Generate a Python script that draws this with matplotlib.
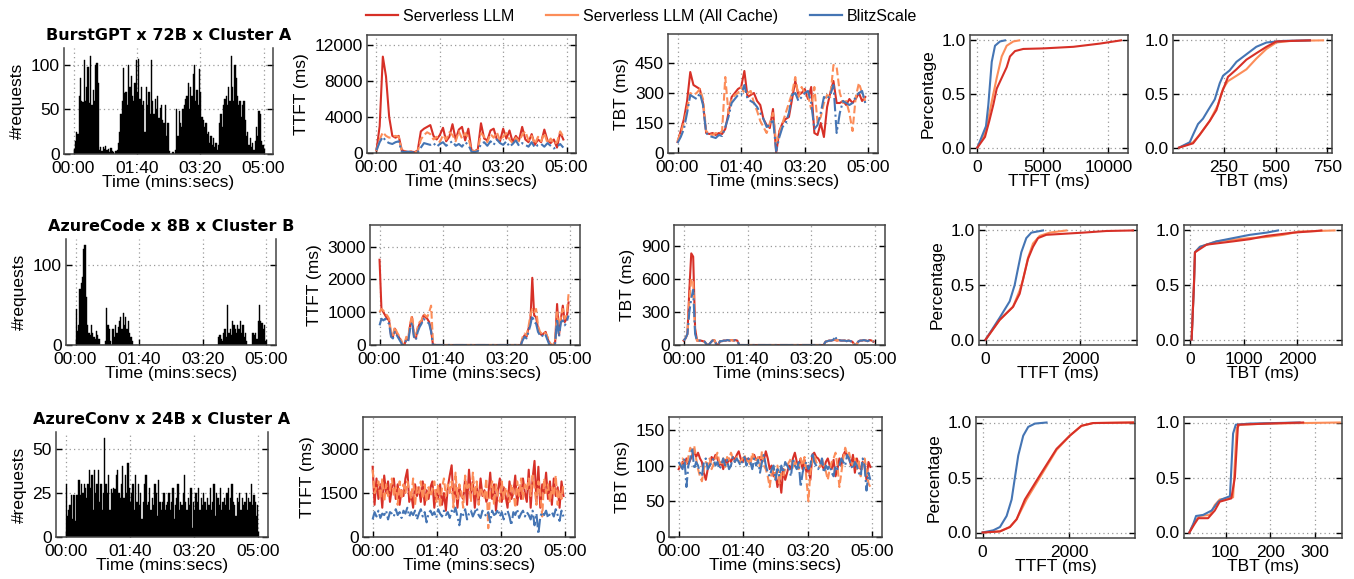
import matplotlib
matplotlib.use("Agg")
import matplotlib.pyplot as plt
from matplotlib.lines import Line2D
from matplotlib.ticker import FuncFormatter
import numpy as np

RED = "#d73027"
ORANGE = "#fc8d59"
BLUE = "#4575b4"

SYSTEMS = ["Serverless LLM", "Serverless LLM (All Cache)", "BlitzScale"]
TITLES = ["BurstGPT x 72B x Cluster A", "AzureCode x 8B x Cluster B", "AzureConv x 24B x Cluster A"]

# request counts, 2 s bins
HIST_T = np.arange(0, 300, 2)
REQ_BURSTGPT = [
    5, 15, 25, 22, 65, 85, 60, 58, 105, 60, 75, 98, 57, 110, 55, 72, 60, 100, 102, 80,
    5, 8, 3, 8, 6, 9, 4, 6, 2, 7, 3, 2, 0, 3, 5,
    12, 25, 45, 60, 97, 68, 70, 55, 100, 75, 88, 65, 60, 80, 105, 70, 107, 62, 75, 55,
    60, 25, 75, 55, 70, 45, 105, 60, 45, 62, 50, 65, 40, 52, 55, 38, 35, 55, 20, 35,
    3, 0, 0, 2, 0, 5,
    50, 20, 48, 35, 30, 50, 55, 62, 65, 80, 50, 75, 65, 90, 100, 60, 72, 55, 95, 70,
    42, 38, 30, 35, 22, 25,
    12, 20, 10, 18, 8, 12, 5, 10,
    35, 45, 30, 55, 62, 65, 55, 75, 60, 110, 75, 60, 100, 85, 65, 55, 60, 42, 55, 60,
    38, 20, 25,
    10, 18, 8, 12, 5, 15,
    30, 20, 48, 45, 15, 10,
]
REQ_AZURECODE = (
    [45, 18, 25, 70, 78, 85, 120, 125, 60, 25, 15, 12, 25, 15, 10, 8, 18, 12, 8,
     0, 0, 0, 0, 5, 47, 25, 20, 5, 0,
     20, 10, 25, 15, 22, 30, 35, 20, 40, 25, 35, 20, 30, 15, 10, 5]
    + [0] * 67
    + [10, 12, 8, 5, 15, 20, 10, 50, 15, 20, 12, 30, 25, 20, 15, 25, 20, 30, 15, 25,
       10, 15, 5, 0, 0, 0, 0, 15, 12, 15, 8, 30, 50, 30, 28, 20, 25, 5]
)
REQ_AZURECONV = [
    30, 12, 15, 18, 24, 10, 24, 9, 24, 24,
    32, 24, 30, 25, 30, 28, 22, 30, 38, 28,
    35, 15, 38, 25, 30, 38, 20, 30, 15, 25,
    56, 30, 25, 35, 15, 27, 25, 28, 27, 35,
    38, 25, 22, 30, 40, 22, 35, 25, 42, 28,
    20, 25, 30, 15, 35, 20, 30, 18, 25, 10,
    20, 30, 35, 18, 20, 28, 15, 22, 18, 30,
    25, 12, 32, 20, 15, 20, 25, 15, 18, 20,
    25, 15, 20, 28, 10, 18, 22, 30, 15, 20,
    18, 25, 35, 20, 15, 22, 18, 28, 5, 20,
    15, 25, 20, 28, 15, 22, 18, 25, 20, 15,
    22, 18, 28, 15, 20, 30, 12, 25, 22, 18,
    28, 15, 20, 22, 18, 25, 28, 15, 22, 30,
    20, 18, 12, 22, 20, 25, 15, 22, 18, 20,
    25, 15, 22, 20, 30, 18, 24, 20, 12, 18,
]

# row 1 time series, 5 s steps
T1 = np.arange(0, 300, 5)
TTFT1_RED = [300, 3000, 10700, 8500, 4000, 1900, 1700, 1900, 300, 200, 100, 150, 100, 250,
             2400, 2700, 2900, 3100, 1900, 1500, 2000, 2800, 1300, 1800, 3200, 1500, 2600, 2900,
             1400, 2700, 300, 200, 400, 3300, 1600, 1400, 2500, 2700, 1500, 1300, 2700, 1600,
             2500, 1200, 1900, 1400, 2900, 1500, 1200, 2100, 900, 1500, 1200, 2600, 1400, 1100,
             1500, 600, 2300, 1500]
TTFT1_ORANGE = [200, 1500, 2300, 1900, 1700, 1800, 1900, 1800, 200, 150, 100, 200, 100, 150,
                1500, 2000, 2300, 2100, 1500, 1800, 1200, 2000, 1500, 2300, 2000, 1300, 2400, 1600,
                2200, 1700, 300, 200, 300, 2200, 1800, 1200, 2100, 1700, 2300, 1400, 1800, 2200,
                1500, 1100, 1700, 1300, 2000, 2400, 1400, 1900, 1000, 1800, 1300, 2200, 1100, 1600,
                1000, 1200, 2400, 1800]
TTFT1_BLUE = [300, 1200, 1800, 1300, 1100, 1000, 1200, 1300, 150, 100, 150, 100, 50, 100,
              600, 1100, 1000, 900, 1100, 700, 1000, 1200, 800, 1100, 1300, 800, 1000, 700,
              1200, 900, 150, 100, 200, 1000, 1200, 800, 1300, 900, 1500, 1100, 900, 1300,
              700, 1000, 1400, 800, 1100, 900, 700, 1200, 600, 900, 1000, 700, 1100, 800,
              500, 700, 1000, 600]
TBT1_RED = [55, 110, 170, 260, 405, 340, 330, 320, 250, 100, 95, 100, 90, 100, 95, 120, 200, 280,
            300, 320, 330, 410, 280, 290, 300, 260, 240, 170, 140, 125, 220, 0, 110, 150, 170, 180,
            270, 360, 290, 300, 320, 270, 330, 100, 90, 150, 80, 230, 300, 360, 250, 250, 260, 240,
            270, 250, 270, 300, 260, 280]
TBT1_ORANGE = [60, 100, 150, 220, 300, 290, 300, 320, 270, 110, 95, 90, 100, 95, 110, 380, 200, 270,
               290, 300, 330, 300, 300, 310, 250, 210, 160, 130, 100, 150, 200, 50, 100, 150, 200, 250,
               300, 380, 280, 330, 300, 290, 220, 330, 150, 180, 250, 290, 280, 440, 430, 300, 250, 260,
               200, 110, 280, 350, 300, 260]
TBT1_BLUE = [50, 80, 120, 200, 290, 280, 270, 300, 240, 100, 85, 80, 75, 90, 85, 130, 180, 250,
             270, 290, 290, 340, 270, 260, 250, 230, 200, 170, 130, 140, 170, 10, 80, 130, 150, 200,
             290, 300, 260, 280, 300, 310, 250, 120, 140, 200, 280, 270, 290, 340, 100, 200, 260, 250,
             240, 250, 280, 300, 310, 250]

# row 2 time series, 3 s steps
T2 = np.arange(0, 300, 3)
TTFT2_RED = ([2600, 1100, 1000, 900, 800, 750, 300, 250, 500, 350, 250, 150, 0, 0, 200, 150, 600, 850,
              300, 200, 500, 650, 700, 900, 850, 800, 700, 450, 0]
             + [0] * 45
             + [0, 200, 300, 250, 500, 700, 2050, 900, 850, 500, 350, 300, 350, 400, 200, 50, 0, 0,
                100, 1250, 300, 800, 1200, 700, 800, 1300])
TTFT2_ORANGE = ([1000, 1100, 1050, 950, 900, 800, 400, 300, 550, 400, 300, 200, 50, 0, 250, 200, 650, 900,
                 400, 250, 550, 700, 750, 950, 900, 850, 1000, 1200, 100]
                + [0] * 45
                + [0, 250, 350, 300, 550, 900, 1100, 1000, 1100, 600, 400, 350, 400, 350, 250, 100, 0, 0,
                   150, 1000, 400, 900, 1100, 800, 900, 1550])
TTFT2_BLUE = ([600, 800, 750, 800, 700, 650, 250, 200, 400, 300, 200, 100, 0, 0, 150, 100, 500, 700,
               250, 150, 400, 550, 650, 800, 750, 700, 650, 400, 0]
              + [0] * 45
              + [0, 150, 250, 200, 400, 600, 900, 700, 650, 400, 300, 250, 350, 300, 150, 0, 0, 0,
                 50, 800, 250, 700, 750, 600, 700, 900])
TBT2_RED = ([40, 60, 100, 500, 830, 800, 150, 40, 40, 40, 35, 30, 5, 0, 20, 40, 45, 10, 0, 35,
             35, 40, 40, 45, 40, 45, 40, 45, 40, 0]
            + [0] * 43
            + [0, 30, 35, 40, 40, 45, 45, 40, 45, 40, 40, 40, 35, 40, 35, 30, 5, 0, 30, 40,
               40, 45, 40, 35, 45, 40, 30])
TBT2_ORANGE = ([40, 60, 100, 400, 600, 580, 120, 40, 40, 40, 35, 30, 5, 0, 20, 40, 45, 10, 0, 35,
                35, 40, 40, 45, 40, 45, 40, 45, 40, 0]
               + [0] * 43
               + [0, 30, 35, 40, 40, 45, 50, 40, 45, 40, 40, 40, 35, 40, 35, 30, 5, 0, 30, 40,
                  40, 45, 40, 35, 45, 40, 30])
TBT2_BLUE = ([40, 60, 100, 300, 420, 500, 100, 40, 40, 40, 35, 30, 5, 0, 20, 40, 45, 10, 0, 35,
              35, 40, 40, 45, 40, 45, 40, 45, 40, 0]
             + [0] * 43
             + [0, 30, 35, 40, 40, 45, 80, 40, 45, 40, 40, 40, 35, 40, 35, 30, 5, 0, 30, 40,
                40, 45, 40, 35, 45, 40, 30])

# row 3 time series, 3 s steps
T3 = np.arange(0, 300, 3)
TTFT3_RED = [2400, 1100, 2000, 1300, 1800, 1000, 2100, 1500, 1900, 1200,
             1700, 2000, 1300, 1800, 1100, 1600, 1400, 2000, 2300, 1200,
             1500, 1000, 1800, 1400, 1700, 1200, 1900, 1100, 1600, 1300,
             1700, 1900, 1000, 1600, 1300, 1800, 1100, 1500, 900, 1700,
             2100, 2450, 1200, 1800, 1000, 1700, 1400, 1300, 2000, 1100,
             2300, 1500, 1900, 1000, 1700, 1200, 2000, 1400, 1600, 1200,
             1400, 2200, 1300, 1800, 900, 1600, 2000, 1200, 1700, 1400,
             1000, 1900, 1300, 1500, 2100, 1100, 1700, 1300, 2000, 1500,
             1200, 2300, 1000, 2000, 2600, 1200, 2400, 1000, 1800, 1500,
             2200, 1300, 1900, 1100, 2000, 1400, 1700, 1000, 1900, 1400]
TTFT3_ORANGE = [2300, 1500, 1700, 1900, 1300, 2000, 1200, 1800, 1400, 1600,
                2000, 1400, 1700, 1100, 1900, 1300, 1800, 1500, 1900, 1600,
                1300, 2000, 1100, 1700, 1500, 1900, 1300, 1800, 1200, 1700,
                1400, 1600, 1900, 1200, 1800, 1000, 1700, 2000, 1400, 1800,
                1500, 1900, 1000, 2200, 1300, 1800, 1500, 1000, 2100, 1600,
                1800, 1200, 2200, 1400, 1900, 1100, 1700, 1500, 1300, 2000,
                300, 1600, 1900, 1100, 1800, 1400, 1200, 1900, 1300, 1700,
                1500, 1200, 1800, 1600, 1000, 1900, 1400, 2000, 1300, 1800,
                1600, 2000, 1400, 2100, 1700, 1100, 1900, 1500, 700, 2000,
                1500, 1800, 1200, 1700, 1400, 2100, 1100, 1600, 1300, 1800]
TTFT3_BLUE = [600, 850, 700, 900, 650, 800, 750, 900, 600, 850,
              800, 700, 950, 750, 850, 650, 900, 800, 1000, 700,
              850, 750, 900, 600, 800, 950, 700, 850, 500, 800,
              900, 750, 850, 650, 950, 800, 700, 900, 750, 850,
              650, 900, 800, 1000, 700, 400, 850, 750, 950, 600,
              800, 900, 700, 850, 1000, 750, 650, 900, 800, 700,
              850, 500, 900, 750, 800, 950, 700, 850, 600, 800,
              900, 700, 400, 850, 750, 950, 650, 800, 900, 700,
              850, 750, 600, 900, 400, 800, 100, 700, 850, 750,
              900, 650, 800, 850, 700, 950, 750, 550, 900, 700]
TBT3_RED = [95, 100, 105, 98, 110, 102, 108, 115, 120, 112,
            118, 110, 105, 90, 80, 95, 100, 112, 108, 115,
            110, 100, 105, 95, 108, 102, 110, 105, 112, 108,
            115, 120, 110, 105, 112, 108, 110, 105, 112, 115,
            108, 110, 112, 105, 108, 120, 110, 95, 100, 85,
            90, 70, 85, 62, 95, 80, 90, 100, 95, 110,
            118, 105, 100, 110, 95, 108, 90, 100, 80, 115,
            118, 112, 110, 105, 100, 95, 105, 110, 100, 95,
            108, 85, 95, 110, 100, 115, 120, 112, 110, 100,
            115, 90, 110, 100, 95, 105, 100, 80, 105, 98]
TBT3_ORANGE = [100, 98, 110, 105, 100, 112, 125, 115, 128, 110,
               95, 85, 78, 95, 105, 100, 110, 95, 102, 110,
               118, 105, 100, 110, 98, 112, 108, 118, 110, 105,
               112, 108, 105, 110, 115, 102, 108, 100, 118, 110,
               105, 112, 98, 120, 100, 95, 85, 70, 90, 95,
               80, 100, 75, 90, 85, 95, 100, 105, 110, 95,
               105, 100, 95, 110, 100, 112, 80, 50, 90, 105,
               115, 105, 100, 98, 110, 100, 92, 80, 95, 105,
               110, 118, 100, 70, 90, 110, 125, 115, 118, 105,
               100, 110, 95, 108, 85, 100, 110, 95, 75, 70]
TBT3_BLUE = [105, 100, 95, 110, 70, 100, 110, 125, 95, 105,
             100, 90, 85, 105, 110, 95, 100, 105, 110, 100,
             105, 95, 100, 110, 100, 108, 95, 100, 112, 105,
             110, 105, 100, 108, 112, 100, 110, 105, 95, 110,
             100, 108, 90, 105, 115, 100, 90, 85, 95, 100,
             80, 95, 85, 100, 90, 105, 100, 95, 85, 110,
             100, 95, 105, 70, 90, 100, 105, 95, 100, 118,
             105, 100, 95, 100, 110, 90, 100, 95, 100, 90,
             85, 100, 95, 100, 110, 105, 100, 115, 110, 100,
             95, 105, 100, 90, 85, 110, 100, 65, 90, 80]

# CDF points (value in ms, fraction)
CDF1_TTFT_X = {
    "red": [0, 585, 915, 1220, 1480, 1860, 2240, 2490, 2875, 3510, 5040, 7330, 9360, 10970],
    "orange": [0, 460, 710, 970, 1220, 1480, 1860, 2240, 2750, 3200],
    "blue": [0, 330, 660, 840, 970, 1100, 1350, 1730, 2110],
}
CDF1_TTFT_Y = {
    "red": [0, 0.1, 0.25, 0.4, 0.55, 0.65, 0.75, 0.85, 0.9, 0.92, 0.925, 0.94, 0.97, 1.0],
    "orange": [0, 0.1, 0.2, 0.35, 0.5, 0.65, 0.85, 0.95, 0.99, 1.0],
    "blue": [0, 0.1, 0.2, 0.4, 0.6, 0.8, 0.95, 0.99, 1.0],
}
CDF1_TBT_X = {
    "red": [32, 100, 132, 181, 213, 237, 269, 310, 358, 406, 455, 503, 665],
    "orange": [32, 100, 132, 181, 221, 245, 269, 310, 358, 406, 455, 503, 568, 729],
    "blue": [32, 84, 100, 124, 148, 173, 205, 229, 245, 277, 310, 358, 406, 455, 535, 665],
}
CDF1_TBT_Y = {
    "red": [0, 0.04, 0.12, 0.25, 0.35, 0.5, 0.66, 0.73, 0.82, 0.88, 0.94, 0.99, 1.0],
    "orange": [0, 0.05, 0.12, 0.25, 0.4, 0.55, 0.62, 0.67, 0.73, 0.83, 0.92, 0.98, 0.995, 1.0],
    "blue": [0, 0.05, 0.12, 0.22, 0.27, 0.35, 0.45, 0.6, 0.67, 0.72, 0.8, 0.87, 0.94, 0.98, 0.995, 1.0],
}
CDF2_TTFT_X = {
    "red": [0, 297, 580, 721, 792, 898, 1004, 1110, 1286, 2063, 2558, 3124],
    "orange": [0, 297, 580, 721, 792, 898, 1004, 1145, 1357, 1710],
    "blue": [0, 297, 509, 615, 685, 756, 862, 968, 1216],
}
CDF2_TTFT_Y = {
    "red": [0, 0.18, 0.3, 0.42, 0.55, 0.74, 0.85, 0.93, 0.96, 0.98, 0.995, 1.0],
    "orange": [0, 0.18, 0.3, 0.45, 0.55, 0.75, 0.88, 0.95, 0.98, 1.0],
    "blue": [0, 0.2, 0.35, 0.5, 0.65, 0.8, 0.93, 0.98, 1.0],
}
CDF2_TBT_X = {
    "red": [31, 74, 93, 186, 310, 805, 1115, 1424, 1920, 2353, 2446],
    "orange": [31, 74, 93, 186, 495, 1115, 1424, 1734, 2043, 2693],
    "blue": [31, 74, 93, 186, 495, 805, 1115, 1424, 1641],
}
CDF2_TBT_Y = {
    "red": [0, 0.5, 0.8, 0.83, 0.87, 0.9, 0.92, 0.95, 0.98, 0.995, 1.0],
    "orange": [0, 0.5, 0.8, 0.85, 0.9, 0.93, 0.94, 0.96, 0.99, 1.0],
    "blue": [0, 0.5, 0.8, 0.85, 0.9, 0.93, 0.96, 0.98, 1.0],
}
CDF3_TTFT_X = {
    "red": [0, 400, 630, 785, 977, 1323, 1708, 2015, 2285, 2554, 3477],
    "orange": [0, 400, 630, 785, 1015, 1323, 1708, 2015, 2285, 2554, 3477],
    "blue": [0, 246, 400, 554, 670, 746, 823, 938, 1054, 1208, 1477],
}
CDF3_TTFT_Y = {
    "red": [0, 0.01, 0.05, 0.12, 0.3, 0.52, 0.76, 0.88, 0.97, 0.995, 1.0],
    "orange": [0, 0.01, 0.05, 0.12, 0.3, 0.5, 0.75, 0.88, 0.97, 0.995, 1.0],
    "blue": [0, 0.02, 0.05, 0.15, 0.3, 0.5, 0.7, 0.88, 0.96, 0.99, 1.0],
}
CDF3_TBT_X = {
    "red": [19, 31, 39, 61, 76, 87, 113, 121, 128, 192, 274],
    "orange": [19, 31, 43, 65, 76, 87, 117, 125, 132, 192, 356],
    "blue": [19, 28, 34, 50, 69, 84, 91, 110, 117, 123, 154, 266],
}
CDF3_TBT_Y = {
    "red": [0, 0.08, 0.13, 0.13, 0.2, 0.28, 0.31, 0.5, 0.98, 0.99, 1.0],
    "orange": [0, 0.1, 0.15, 0.16, 0.25, 0.3, 0.32, 0.95, 0.98, 0.99, 1.0],
    "blue": [0, 0.08, 0.15, 0.16, 0.2, 0.28, 0.3, 0.33, 0.9, 0.98, 0.99, 1.0],
}

W, H = 1354, 579


def box(fig, x0, y0, x1, y1):
    return fig.add_axes([x0 / W, 1 - y1 / H, (x1 - x0) / W, (y1 - y0) / H])


def style(ax):
    ax.grid(True, color="#999999", ls=(0, (1, 2.5)), lw=0.9)
    ax.set_axisbelow(True)
    ax.tick_params(direction="in", length=4, width=1.0, right=True, labelsize=12.5, pad=3)
    ax.tick_params(axis="x", pad=5)
    for sp in ax.spines.values():
        sp.set_color("#444444")
        sp.set_linewidth(1.1)


def time_axis(ax):
    ax.set_xlim(-15, 315)
    ax.set_xticks([0, 100, 200, 300])
    ax.xaxis.set_major_formatter(FuncFormatter(lambda v, p: f"{int(v) // 60:02d}:{int(v) % 60:02d}"))
    ax.set_xlabel("Time (mins:secs)", fontsize=12.5, labelpad=-1)


def hist(ax, counts, title, ylim, yticks):
    ax.bar(HIST_T, counts, width=2, align="edge", color="black", edgecolor="black", linewidth=0.3)
    time_axis(ax)
    ax.set_ylim(*ylim)
    ax.set_yticks(yticks)
    ax.set_ylabel("#requests", fontsize=12.5)
    ax.spines["top"].set_visible(False)
    ax.set_title(title, family="DejaVu Sans", fontweight="bold", fontsize=11.5, pad=6)
    style(ax)


def series(ax, t, red, orange, blue, ylabel, ylim, yticks):
    ax.plot(t, red, color=RED, lw=1.5, ls="-")
    ax.plot(t, orange, color=ORANGE, lw=1.5, ls="--")
    ax.plot(t, blue, color=BLUE, lw=1.5, ls="-.")
    time_axis(ax)
    ax.set_ylim(*ylim)
    ax.set_yticks(yticks)
    ax.set_ylabel(ylabel, fontsize=12.5)
    style(ax)


def cdf(ax, xs, ys, xlabel, xlim, xticks, ylabel=True):
    for key, color in [("orange", ORANGE), ("blue", BLUE), ("red", RED)]:
        ax.plot(xs[key], ys[key], color=color, lw=1.5)
    ax.set_xlim(*xlim)
    ax.set_xticks(xticks)
    ax.set_ylim(-0.05, 1.05)
    ax.set_yticks([0.0, 0.5, 1.0])
    ax.set_xlabel(xlabel, fontsize=12.5, labelpad=-1)
    if ylabel:
        ax.set_ylabel("Percentage", fontsize=12.5)
    style(ax)


def main():
    plt.rcParams.update({
        "font.family": ["Liberation Sans", "DejaVu Sans"],
        "font.size": 12.5,
    })
    fig = plt.figure(figsize=(W / 100, H / 100), dpi=100)

    # row 1
    hist(box(fig, 64, 48, 273, 154), REQ_BURSTGPT, TITLES[0], (0, 119), [0, 50, 100])
    series(box(fig, 367, 35, 576, 153), T1, TTFT1_RED, TTFT1_ORANGE, TTFT1_BLUE,
           "TTFT (ms)", (0, 13100), [0, 4000, 8000, 12000])
    series(box(fig, 668, 34, 878, 153), T1, TBT1_RED, TBT1_ORANGE, TBT1_BLUE,
           "TBT (ms)", (0, 595), [0, 150, 300, 450])
    cdf(box(fig, 970, 35, 1128, 153), CDF1_TTFT_X, CDF1_TTFT_Y, "TTFT (ms)", (-560, 11500), [0, 5000, 10000])
    cdf(box(fig, 1173, 35, 1332, 153), CDF1_TBT_X, CDF1_TBT_Y, "TBT (ms)", (3, 772), [250, 500, 750], ylabel=False)

    # row 2
    hist(box(fig, 66, 239, 276, 345), REQ_AZURECODE, TITLES[1], (0, 133), [0, 100])
    series(box(fig, 370, 225, 580, 345), T2, TTFT2_RED, TTFT2_ORANGE, TTFT2_BLUE,
           "TTFT (ms)", (0, 3660), [0, 1000, 2000, 3000])
    series(box(fig, 674, 225, 885, 345), T2, TBT2_RED, TBT2_ORANGE, TBT2_BLUE,
           "TBT (ms)", (0, 1087), [0, 300, 600, 900])
    cdf(box(fig, 979, 225, 1137, 345), CDF2_TTFT_X, CDF2_TTFT_Y, "TTFT (ms)", (-141, 3208), [0, 2000])
    cdf(box(fig, 1184, 225, 1342, 345), CDF2_TBT_X, CDF2_TBT_Y, "TBT (ms)", (-111, 2830), [0, 1000, 2000],
        ylabel=False)

    # row 3
    hist(box(fig, 56, 432, 268, 537), REQ_AZURECONV, TITLES[2], (0, 59.4), [0, 25, 50])
    series(box(fig, 363, 417, 575, 537), T3, TTFT3_RED, TTFT3_ORANGE, TTFT3_BLUE,
           "TTFT (ms)", (0, 4100), [0, 1500, 3000])
    series(box(fig, 669, 417, 882, 537), T3, TBT3_RED, TBT3_ORANGE, TBT3_BLUE,
           "TBT (ms)", (0, 168), [0, 50, 100, 150])
    cdf(box(fig, 976, 417, 1135, 538), CDF3_TTFT_X, CDF3_TTFT_Y, "TTFT (ms)", (-154, 3523), [0, 2000])
    cdf(box(fig, 1184, 417, 1342, 538), CDF3_TBT_X, CDF3_TBT_Y, "TBT (ms)", (7, 361), [100, 200, 300],
        ylabel=False)

    handles = [Line2D([], [], color=c, lw=1.6) for c in (RED, ORANGE, BLUE)]
    fig.legend(handles, SYSTEMS, loc="upper center", bbox_to_anchor=(0.474, 1.01), ncol=3,
               frameon=False, fontsize=11.5, handlelength=2.0, handletextpad=0.3, columnspacing=2.0)

    fig.savefig("out.png", dpi=100)
    plt.close(fig)


if __name__ == "__main__":
    main()
